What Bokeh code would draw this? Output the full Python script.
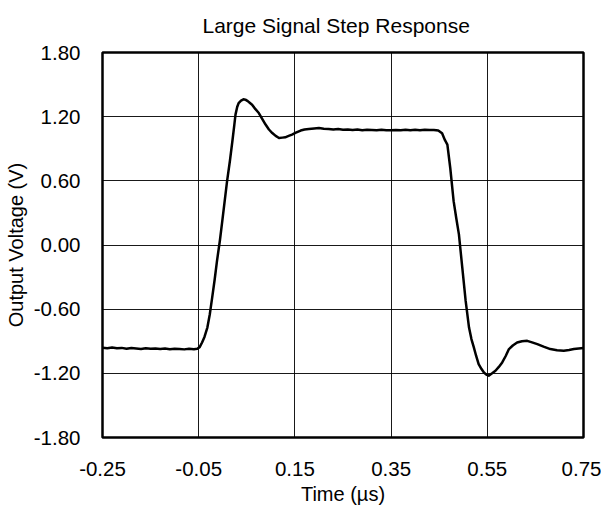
from bokeh.plotting import figure
from bokeh.models import FixedTicker, Range1d
from bokeh.embed import file_html
from bokeh.resources import INLINE

# ---- data ----
time_us = [
    -0.25, -0.24, -0.23, -0.22, -0.21, -0.20, -0.19, -0.18, -0.17, -0.16,
    -0.15, -0.14, -0.13, -0.12, -0.11, -0.10, -0.09, -0.08, -0.07, -0.06,
    -0.053, -0.048, -0.043, -0.038, -0.032, -0.027, -0.022, -0.017, -0.012,
    -0.006, -0.001, 0.004, 0.009, 0.015, 0.020, 0.024, 0.0265, 0.030, 0.033,
    0.038, 0.043, 0.047, 0.052, 0.056, 0.061, 0.068, 0.075, 0.082, 0.089,
    0.096, 0.103, 0.110, 0.117, 0.124, 0.130, 0.137, 0.144, 0.152, 0.162,
    0.170, 0.179, 0.19, 0.20, 0.21, 0.22, 0.23, 0.24, 0.25, 0.26, 0.27,
    0.28, 0.29, 0.30, 0.31, 0.32, 0.33, 0.34, 0.35, 0.36, 0.37, 0.38, 0.39,
    0.40, 0.41, 0.42, 0.43, 0.439, 0.448, 0.456, 0.462, 0.467, 0.473, 0.480,
    0.4855, 0.491, 0.498, 0.505, 0.512, 0.517, 0.522, 0.527, 0.532, 0.538,
    0.543, 0.548, 0.553, 0.560, 0.567, 0.574, 0.581, 0.588, 0.595, 0.603,
    0.612, 0.622, 0.633, 0.643, 0.654, 0.667, 0.681, 0.695, 0.709, 0.72,
    0.730, 0.740, 0.750,
]
voltage_v = [
    -0.960, -0.965, -0.958, -0.966, -0.962, -0.970, -0.963, -0.968, -0.972, -0.965,
    -0.970, -0.967, -0.973, -0.968, -0.975, -0.970, -0.972, -0.976, -0.971, -0.974,
    -0.970, -0.955, -0.912, -0.860, -0.772, -0.650, -0.492, -0.330, -0.150,
    0.040, 0.223, 0.410, 0.597, 0.790, 0.970, 1.120, 1.219, 1.290, 1.327,
    1.350, 1.362, 1.359, 1.345, 1.330, 1.312, 1.270, 1.234, 1.180, 1.126,
    1.080, 1.047, 1.020, 1.001, 1.004, 1.007, 1.020, 1.032, 1.050, 1.070,
    1.080, 1.085, 1.090, 1.094, 1.088, 1.085, 1.080, 1.084, 1.078, 1.080, 1.076,
    1.079, 1.074, 1.078, 1.075, 1.072, 1.077, 1.073, 1.072, 1.076, 1.074, 1.078, 1.073,
    1.077, 1.074, 1.078, 1.075, 1.075, 1.070, 1.044, 0.980, 0.939, 0.720, 0.410,
    0.250, 0.099, -0.212, -0.523, -0.772, -0.880, -0.958, -1.040, -1.113, -1.160,
    -1.192, -1.212, -1.222, -1.200, -1.176, -1.140, -1.098, -1.040, -0.973, -0.940,
    -0.912, -0.900, -0.896, -0.910, -0.927, -0.950, -0.973, -0.985, -0.989, -0.982,
    -0.973, -0.968, -0.964,
]

x_ticks = [-0.25, -0.05, 0.15, 0.35, 0.55, 0.75]
x_tick_labels = ["-0.25", "-0.05", "0.15", "0.35", "0.55", "0.75"]
y_ticks = [-1.8, -1.2, -0.6, 0.0, 0.6, 1.2, 1.8]
y_tick_labels = ["-1.80", "-1.20", "-0.60", "0.00", "0.60", "1.20", "1.80"]

FONT = "Liberation Sans"

p = figure(
    width=601, height=508,
    output_backend="svg", toolbar_location=None,
    x_range=Range1d(-0.25, 0.75), y_range=Range1d(-1.8, 1.8),
    min_border_left=102, min_border_right=18,
    min_border_top=51, min_border_bottom=71,
    background_fill_color="white", border_fill_color="white",
)

p.title.text = "Large Signal Step Response"
p.title.align = "left"
p.title.offset = 100
p.title.vertical_align = "top"
p.title.standoff = 27
p.title.text_font = FONT
p.title.text_font_size = "21px"
p.title.text_font_style = "normal"
p.title.text_color = "black"

for ax in (p.xaxis[0], p.yaxis[0]):
    ax.major_tick_out = 0
    ax.major_tick_in = 0
    ax.minor_tick_out = 0
    ax.minor_tick_in = 0
    ax.axis_line_color = None
    ax.major_label_text_font = FONT
    ax.major_label_text_font_size = "20.5px"
    ax.major_label_text_color = "black"
    ax.axis_label_text_font = FONT
    ax.axis_label_text_font_size = "20px"
    ax.axis_label_text_font_style = "normal"
    ax.axis_label_text_color = "black"

p.xaxis.ticker = FixedTicker(ticks=x_ticks)
p.xaxis.major_label_overrides = {t: s for t, s in zip(x_ticks, x_tick_labels)}
p.xaxis.major_label_standoff = 24
p.xaxis.axis_label = "Time (µs)"
p.xaxis.axis_label_standoff = 4

p.yaxis.ticker = FixedTicker(ticks=y_ticks)
p.yaxis.major_label_overrides = {t: s for t, s in zip(y_ticks, y_tick_labels)}
p.yaxis.major_label_standoff = 22
p.yaxis.axis_label = "Output Voltage (V)"
p.yaxis.axis_label_standoff = 4

p.xgrid.ticker = FixedTicker(ticks=x_ticks)
p.ygrid.ticker = FixedTicker(ticks=y_ticks)
for g in (p.xgrid[0], p.ygrid[0]):
    g.grid_line_color = "black"
    g.grid_line_width = 1
    g.grid_line_alpha = 0.9

p.outline_line_color = "black"
p.outline_line_width = 2.5
p.outline_line_alpha = 1

p.line(time_us, voltage_v, line_color="black", line_width=2.5, line_join="round")

open("out.html", "w").write(file_html(p, INLINE))
